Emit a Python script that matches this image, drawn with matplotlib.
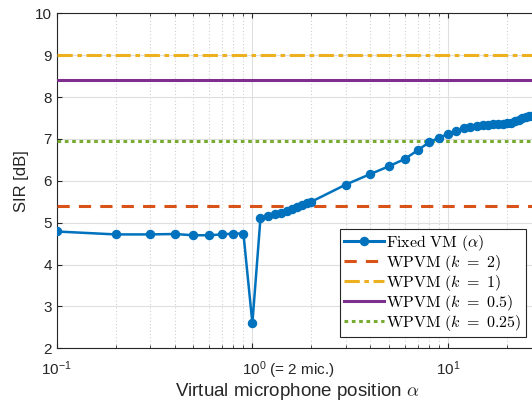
import numpy as np
import matplotlib
matplotlib.use('Agg')
import matplotlib.pyplot as plt
import matplotlib.transforms as mtransforms
from matplotlib.ticker import LogLocator, NullFormatter, FixedLocator

# Fixed VM curve, SIR [dB] vs virtual microphone position alpha
alpha = [0.1, 0.2, 0.3, 0.4, 0.5, 0.6, 0.7, 0.8, 0.9, 1.0,
         1.1, 1.2, 1.3, 1.4, 1.5, 1.6, 1.7, 1.8, 1.9, 2.0,
         3, 4, 5, 6, 7, 8, 9, 10,
         11, 12, 13, 14, 15, 16, 17, 18, 19, 20,
         21, 22, 23, 24, 25, 26, 27, 28, 29, 30]
sir_fixed = [4.79, 4.72, 4.72, 4.73, 4.70, 4.70, 4.72, 4.74, 4.74, 2.60,
             5.11, 5.15, 5.20, 5.24, 5.28, 5.32, 5.37, 5.42, 5.46, 5.50,
             5.91, 6.16, 6.35, 6.52, 6.73, 6.92, 7.03, 7.12,
             7.19, 7.25, 7.29, 7.31, 7.33, 7.34, 7.35, 7.36, 7.36, 7.37,
             7.39, 7.42, 7.46, 7.49, 7.52, 7.54, 7.55, 7.56, 7.57, 7.58]

# WPVM results for each k (constant lines)
wpvm_k = ['2', '1', '0.5', '0.25']
wpvm_sir = [5.41, 9.00, 8.40, 6.94]
wpvm_colors = ['#D95319', '#EDB120', '#7E2F8E', '#77AC30']
wpvm_styles = [(0, (4, 3)), (0, (5, 1.5, 1.5, 1.5)), '-', (0, (1.2, 1.2))]

xtick_pos = [0.1, 1, 10]
xtick_labels = [r'$10^{-1}$', r'$10^{0}$ (= 2 mic.)', r'$10^{1}$']

plt.rcParams['font.family'] = ['Liberation Sans', 'DejaVu Sans']
plt.rcParams['mathtext.fontset'] = 'custom'
plt.rcParams['mathtext.rm'] = 'Liberation Sans'
plt.rcParams['mathtext.it'] = 'Liberation Sans:italic'

fig = plt.figure(figsize=(5.32, 4.05), dpi=100)
ax = fig.add_axes([0.1066, 0.14, 0.904, 0.827])

ax.plot(alpha, sir_fixed, color='#0072BD', marker='o', markersize=5.8,
        linewidth=1.8, label=r'$\mathrm{Fixed\ VM}\ (\alpha)$', zorder=5)
for k, v, c, ls in zip(wpvm_k, wpvm_sir, wpvm_colors, wpvm_styles):
    ax.axhline(v, color=c, linestyle=ls, linewidth=2.2,
               label=r'$\mathrm{WPVM}\ (k\ =\ %s)$' % k, zorder=4)

ax.set_xscale('log')
ax.set_xlim(0.1, 28.7)
ax.set_ylim(2, 10)
ax.set_yticks(range(2, 11))

ax.tick_params(which='both', direction='in', top=True, right=True,
               colors='#262626', labelsize=11)
ax.tick_params(axis='x', pad=8)

ax.xaxis.set_major_locator(FixedLocator(xtick_pos))
ax.set_xticklabels(xtick_labels)
ax.xaxis.set_minor_locator(LogLocator(base=10, subs=np.arange(2, 10)))
ax.xaxis.set_minor_formatter(NullFormatter())
# the "(= 2 mic.)" label starts just left of its tick
lab = ax.xaxis.get_major_ticks()[1].label1
lab.set_ha('left')
lab.set_transform(lab.get_transform() +
                  mtransforms.ScaledTranslation(-10 / 100, 0, fig.dpi_scale_trans))

ax.grid(which='major', color='#DFDFDF', linestyle='-', linewidth=0.8)
ax.grid(which='minor', axis='x', color='#D0D0D0', linestyle=(0, (1, 2)), linewidth=0.8)
ax.set_axisbelow(True)

for s in ax.spines.values():
    s.set_color('#262626')
ax.spines['right'].set_visible(False)

ax.set_ylabel('SIR [dB]', fontsize=12, color='#262626')
xl = ax.set_xlabel(r'Virtual microphone position $\alpha$', fontsize=13.5,
                   color='#262626', labelpad=0)
xl.set_math_fontfamily('cm')

leg = ax.legend(loc='lower left', bbox_to_anchor=(0.589, 0.034),
                fontsize=11.5, fancybox=False, framealpha=1, edgecolor='#262626',
                handlelength=2.5, handletextpad=0.15, labelspacing=0.0,
                borderpad=0.25, borderaxespad=0)
leg.get_frame().set_linewidth(0.8)
for t in leg.get_texts():
    t.set_math_fontfamily('cm')
for h in leg.get_lines():
    h.set_linewidth(2.2)

fig.savefig('out.png', dpi=100)
